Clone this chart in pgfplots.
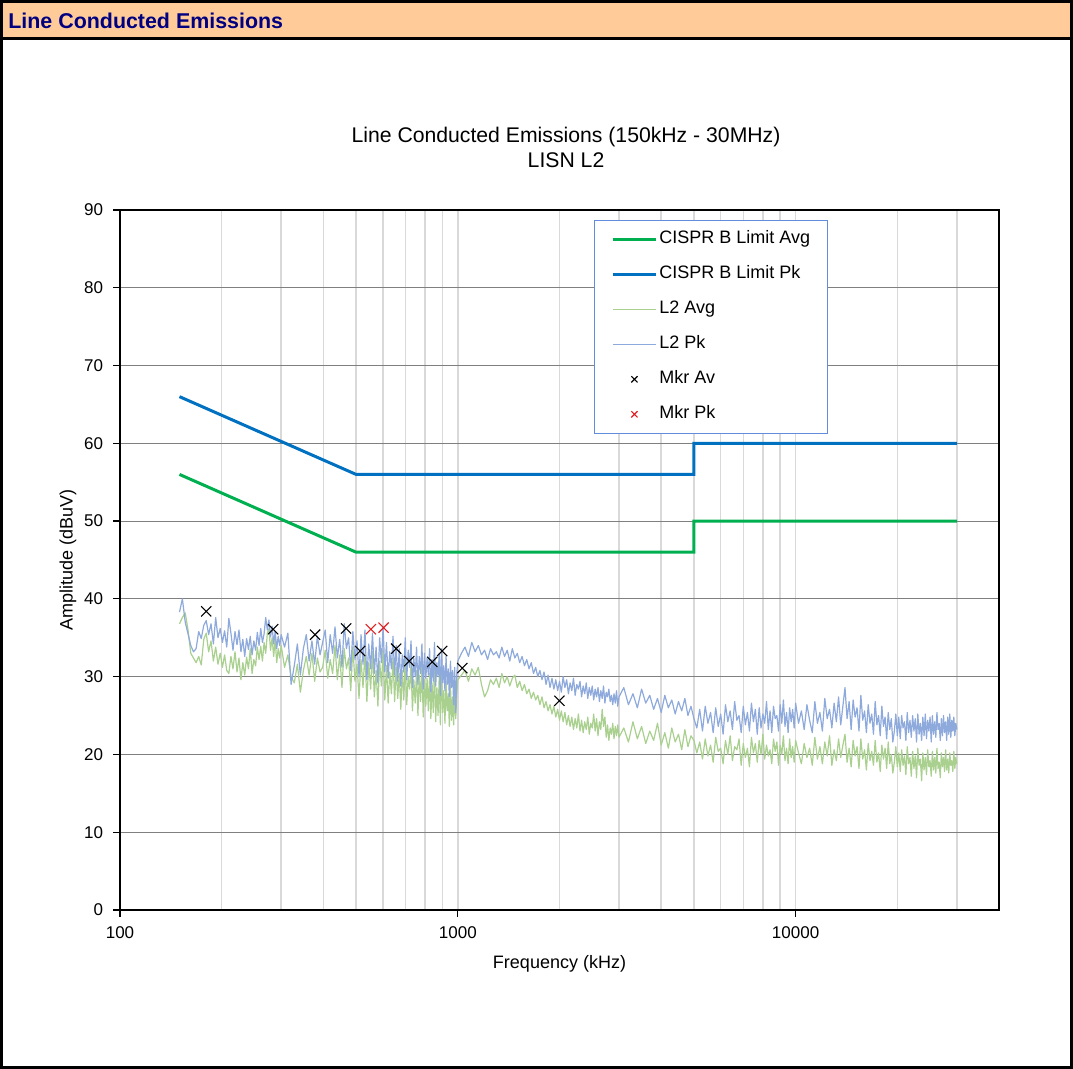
\documentclass[border=0pt]{standalone}
\usepackage{pgfplots}
\usepackage{pgfplotstable}
\pgfplotsset{compat=1.18}
\usepackage{fontspec}
\setmainfont{Liberation Sans}
\definecolor{limavg}{RGB}{0,176,80}
\definecolor{limpk}{RGB}{0,112,192}
\definecolor{travg}{RGB}{169,208,142}
\definecolor{trpk}{RGB}{142,169,219}
\definecolor{legblue}{RGB}{100,140,220}
\definecolor{hdr}{RGB}{255,204,153}
\definecolor{navy}{RGB}{0,0,128}
\definecolor{gridmaj}{RGB}{128,128,128}
\definecolor{gridmin}{RGB}{217,217,217}
\definecolor{mkrred}{RGB}{224,32,32}

\pgfplotstableread{
f pk av
150 38.3 36.8
153 40.0 37.6
156 37.0 38.2
159 35.5 36.0
162 34.0 33.0
165 33.2 32.4
168 33.6 31.8
171 35.8 32.6
174 34.9 31.5
177 36.6 34.8
180 37.2 35.6
183 35.4 33.2
186 36.8 34.6
189 34.2 32.0
192 37.6 33.8
195 35.0 31.6
198 36.2 33.0
201 34.4 31.2
204 35.9 32.8
207 33.8 30.8
210 37.5 30.4
213 35.6 32.6
216 33.4 31.0
219 35.8 33.2
222 34.1 30.6
225 36.0 32.4
228 33.2 29.6
231 34.8 31.8
234 32.6 30.2
237 34.9 32.5
240 33.5 31.0
243 35.2 33.6
246 32.8 30.4
249 34.6 32.2
252 33.4 31.4
255 35.7 33.8
258 34.0 32.2
261 36.2 33.9
264 34.4 32.0
267 35.5 34.4
270 37.6 33.0
273 36.0 35.6
276 37.3 36.2
279 35.1 33.4
282 36.5 35.0
285 34.2 32.6
288 35.8 34.8
291 33.6 31.8
294 35.2 33.6
297 34.0 32.4
300 35.4 34.0
307 33.8 31.2
314 35.6 32.8
321 29.0 30.0
328 31.4 29.2
335 34.2 31.6
342 30.2 28.0
349 33.6 30.8
356 35.4 32.6
363 32.0 30.2
370 34.6 33.0
377 31.6 29.4
384 35.2 32.4
391 32.8 30.6
398 34.4 31.2
405 36.0 33.4
412 31.8 29.8
419 35.4 32.2
426 33.0 30.4
433 36.4 34.0
440 32.4 29.6
447 34.8 32.8
454 31.2 28.6
461 36.8 33.6
468 33.6 31.0
475 35.0 32.4
482 30.8 28.2
489 35.8 33.8
496 32.2 29.4
503 34.6 31.6
510 30.0 27.2
517 35.4 32.2
524 31.6 28.6
531 36.0 33.0
538 29.6 26.8
545 34.2 31.8
552 31.0 28.4
559 35.6 33.2
566 30.4 27.4
573 33.8 30.8
580 29.2 26.2
587 35.0 32.0
594 31.8 28.8
601 36.4 33.4
608 30.6 27.0
615 34.4 31.4
622 29.8 26.6
629 33.2 30.6
636 31.0 27.8
643 35.2 32.4
650 30.2 26.8
657 34.0 31.2
664 29.4 27.2
671 33.6 30.4
678 28.8 25.8
685 32.8 30.8
692 30.6 27.0
699 35.0 32.2
706 29.6 26.4
713 33.4 30.0
720 31.2 28.4
727 34.6 31.6
734 28.6 25.6
741 32.4 29.6
748 30.0 26.6
755 33.8 30.8
762 29.0 25.0
769 32.6 30.2
776 30.4 26.8
783 34.2 31.4
790 28.4 24.8
797 33.0 29.6
804 29.8 26.2
811 32.4 29.8
818 30.2 25.6
825 33.6 30.4
832 28.0 24.6
839 32.2 29.2
846 29.4 25.4
853 34.4 31.2
860 28.8 24.2
867 31.8 28.6
874 30.0 25.0
881 33.0 30.0
888 27.6 23.8
895 33.6 30.6
902 29.2 25.4
909 31.4 28.2
916 28.2 24.0
923 32.6 29.4
930 29.0 25.6
937 31.0 27.8
944 27.4 23.6
951 32.0 29.0
958 28.6 24.4
965 30.8 27.4
972 26.4 23.8
979 31.2 28.6
986 25.4 24.6
993 30.4 27.6
1000 32.0 29.6
1025 33.0 30.2
1050 33.8 30.8
1075 32.6 29.4
1100 34.4 31.0
1125 33.2 30.2
1150 34.0 31.2
1175 32.8 29.0
1200 33.4 27.4
1225 32.2 28.2
1250 33.6 29.6
1275 32.8 29.0
1300 33.2 29.8
1325 32.4 28.6
1350 33.8 30.4
1375 32.6 29.2
1400 33.4 30.0
1425 32.0 28.8
1450 33.6 29.8
1475 32.4 30.2
1500 33.0 28.6
1525 31.8 29.4
1550 32.6 28.2
1575 31.4 29.0
1600 32.2 27.8
1625 31.0 28.4
1650 31.8 27.2
1675 30.4 28.0
1700 31.2 27.0
1725 30.0 27.6
1750 30.8 26.4
1775 29.6 27.4
1800 30.6 26.0
1825 29.0 26.8
1850 30.2 25.6
1875 28.6 26.4
1900 29.8 25.2
1925 28.4 26.2
1950 29.6 24.8
1975 28.2 25.8
2000 29.4 24.4
2025 28.0 25.6
2050 30.0 24.2
2075 28.6 25.4
2100 29.6 23.8
2125 27.8 25.0
2150 29.2 23.6
2175 28.2 24.8
2200 29.8 23.2
2225 27.6 24.6
2250 29.0 23.4
2275 28.4 25.2
2300 29.4 23.0
2325 27.4 24.4
2350 28.8 22.8
2375 27.8 24.2
2400 29.2 23.2
2425 27.2 24.8
2450 28.6 22.6
2475 27.6 24.0
2500 28.8 23.4
2525 27.0 25.2
2550 28.4 23.0
2575 27.4 24.6
2600 28.6 22.4
2625 26.8 24.2
2650 28.2 23.2
2675 27.2 25.8
2700 28.8 23.6
2725 26.6 24.8
2750 28.0 22.2
2775 27.4 23.8
2800 28.4 21.8
2825 26.8 23.4
2850 27.6 22.6
2875 26.4 24.0
2900 27.8 22.0
2925 26.6 23.6
2950 28.2 22.4
2975 26.2 23.8
3000 27.4 22.2
3100 28.6 23.4
3200 26.4 21.6
3300 27.8 24.2
3400 26.0 22.0
3500 28.4 23.6
3600 26.6 21.4
3700 27.6 23.0
3800 25.8 21.8
3900 27.2 24.0
4000 25.4 21.2
4100 27.6 22.8
4200 26.0 20.8
4300 27.0 23.4
4400 25.2 21.6
4500 26.8 22.6
4600 25.6 20.6
4700 27.2 23.2
4800 25.0 21.0
4900 26.2 22.4
5000 24.6 21.8
5100 23.4 20.2
5200 25.8 21.6
5300 23.0 19.4
5400 26.2 22.0
5500 24.0 19.8
5600 25.4 21.2
5700 22.8 19.0
5800 26.0 22.2
5900 23.6 20.4
6000 25.2 20.8
6100 22.6 18.8
6200 26.4 21.8
6300 24.2 20.0
6400 25.6 22.4
6500 23.2 19.2
6600 26.8 21.0
6700 24.4 20.6
6800 25.0 22.0
6900 22.8 18.6
7000 26.2 21.4
7100 23.8 19.6
7200 25.4 20.8
7300 23.0 18.4
7400 26.6 22.2
7500 24.2 20.2
7600 25.8 21.4
7700 22.6 19.0
7800 26.0 21.8
7900 23.4 20.0
8000 25.2 22.6
8100 24.0 19.4
8200 26.8 21.2
8300 23.2 19.8
8400 25.6 20.6
8500 22.8 18.8
8600 26.2 22.0
8700 24.6 20.4
8800 25.0 21.6
8900 23.0 18.6
9000 26.4 21.2
9100 24.0 20.0
9200 27.0 22.4
9300 23.6 19.2
9400 25.4 20.8
9500 22.8 18.8
9600 26.0 22.0
9700 24.2 19.6
9800 25.8 21.0
9900 23.4 19.0
10000 26.6 21.8
10200 24.0 20.2
10400 25.6 18.8
10600 23.2 21.4
10800 26.4 19.6
11000 24.4 20.8
11200 22.8 18.6
11400 26.8 22.2
11600 24.0 19.4
11800 25.4 21.0
12000 23.0 18.8
12200 27.2 21.6
12400 24.6 19.8
12600 25.8 22.4
12800 23.4 18.6
13000 26.6 20.6
13200 24.2 19.2
13400 27.4 22.0
13600 23.8 19.6
13800 26.2 21.2
14000 28.6 22.6
14200 24.6 19.0
14400 26.8 20.8
14600 23.2 18.4
14800 27.0 21.8
15000 24.8 19.8
15200 26.0 21.0
15400 23.0 18.2
15600 27.6 22.0
15800 24.4 19.4
16000 25.6 20.6
16200 22.8 18.0
16400 26.4 21.4
16600 24.0 19.2
16800 25.2 20.4
17000 22.6 18.6
17200 26.8 21.8
17400 23.8 19.0
17600 25.0 20.2
17800 22.4 17.8
18000 26.2 21.2
18200 23.6 19.4
18400 24.8 20.8
18600 22.0 18.2
18800 25.4 21.6
19000 23.2 18.8
19200 24.6 20.0
19400 21.6 17.6
19600 23.0 19.0
19800 25.2 21.0
20000 22.4 18.4
20200 24.8 20.2
20400 22.0 17.8
20600 25.0 20.6
20800 23.4 18.6
21000 24.2 19.8
21200 21.8 17.4
21400 25.4 21.0
21600 22.8 18.8
21800 24.4 19.6
22000 22.2 17.2
22200 25.0 20.4
22400 23.0 18.2
22600 24.6 19.8
22800 21.6 17.0
23000 25.2 20.8
23200 22.6 18.6
23400 24.0 19.4
23600 21.8 16.6
23800 24.8 20.2
24000 22.4 18.0
24200 25.2 19.6
24400 22.0 17.4
24600 24.4 20.6
24800 23.0 18.4
25000 24.8 19.2
25200 21.6 17.2
25400 25.0 20.4
25600 22.6 18.0
25800 24.2 19.6
26000 22.2 17.6
26200 25.4 20.8
26400 23.2 18.2
26600 24.0 19.0
26800 21.8 17.0
27000 24.6 20.2
27200 22.4 18.4
27400 25.0 19.6
27600 22.8 17.8
27800 24.2 20.6
28000 21.8 18.0
28200 24.8 19.4
28400 22.6 17.6
28600 25.2 20.2
28800 22.2 18.6
29000 24.4 19.2
29200 23.0 17.8
29400 24.8 20.4
29600 22.4 18.2
29800 24.0 19.6
30000 23.2 18.8
}\trace

\begin{document}
\begin{tikzpicture}
% outer frame and header
\fill[hdr] (1.5pt,515.25pt) rectangle (535pt,533pt);
\draw[line width=1.5pt] (1.5pt,515.25pt) -- (535pt,515.25pt);
\node[anchor=west,inner sep=0pt,text=navy,font=\fontsize{10.7}{12}\selectfont\bfseries] at (4pt,524.3pt) {Line Conducted Emissions};
\draw[line width=1.5pt] (0.75pt,0.75pt) rectangle (535.75pt,533.75pt);

\begin{axis}[
  at={(60pt,79.5pt)}, anchor=south west,
  width=439.5pt, height=350pt, scale only axis,
  xmode=log, log basis x=10,
  xmin=100, xmax=40000, ymin=0, ymax=90,
  xtick={100,1000,10000}, xticklabels={100,1000,10000},
  minor xtick={200,300,400,500,600,700,800,900,1000,2000,3000,4000,5000,6000,7000,8000,9000,10000,20000,30000},
  ytick={0,10,20,30,40,50,60,70,80,90},
  ymajorgrids, xminorgrids,
  major grid style={gridmaj, line width=0.5pt},
  minor grid style={gridmin, line width=0.75pt},
  tick pos=left, tick align=outside,
  major tick length=3.5pt, minor tick length=0pt,
  tick style={black, line width=0.6pt},
  axis line style={black, line width=1.1pt},
  /pgf/number format/assume math mode=true,
  ticklabel style={font=\fontsize{8.5}{10}\selectfont},
  yticklabel style={xshift=-1.5pt},
  xticklabel style={yshift=-1.5pt},
  xlabel={Frequency (kHz)},
  ylabel={Amplitude (dBuV)},
  label style={font=\fontsize{9}{11}\selectfont},
  xlabel style={at={(axis description cs:0.5,-0.0771)}, anchor=center},
  ylabel style={at={(axis description cs:-0.0592,0.5)}, anchor=center},
  title={Line Conducted Emissions (150kHz - 30MHz)\\LISN L2},
  title style={at={(axis description cs:0.5074,1.0721)}, anchor=center, align=center, font=\fontsize{10.6}{12.5}\selectfont},
  legend cell align=left,
  legend image code/.code={\draw[mark repeat=2,mark phase=2,#1] plot coordinates {(0pt,0pt) (10.75pt,0pt) (21.5pt,0pt)};},
  legend style={at={(axis description cs:0.5392,0.9857)}, anchor=north west,
    draw=legblue, line width=0.5pt, font=\fontsize{9}{10}\selectfont,
    inner xsep=8.5pt, inner ysep=5pt, row sep=8.7pt, column sep=1pt,
    nodes={inner sep=0pt, text height=6.6pt, text depth=2.2pt, anchor=west}},
]
\addplot[limavg, line width=1.5pt] coordinates {(150,56) (500,46) (5000,46) (5000,50) (30000,50)};
\addlegendentry{CISPR B Limit Avg}
\addplot[limpk, line width=1.5pt] coordinates {(150,66) (500,56) (5000,56) (5000,60) (30000,60)};
\addlegendentry{CISPR B Limit Pk}
\addplot[travg, line width=0.6pt, line join=round] table[x=f, y=av] {\trace};
\addlegendentry{L2 Avg}
\addplot[trpk, line width=0.6pt, line join=round] table[x=f, y=pk] {\trace};
\addlegendentry{L2 Pk}
\addplot[only marks, mark=x, mark size=3.6pt, black, line width=0.55pt,
  legend image post style={mark size=2.2pt}] coordinates {
  (180,38.4) (284,36.1) (378,35.4) (467,36.2) (514,33.3) (657,33.6)
  (718,32.0) (840,31.9) (899,33.3) (1031,31.1) (1999,26.9)};
\addlegendentry{Mkr Av}
\addplot[only marks, mark=x, mark size=3.6pt, mkrred, line width=0.55pt,
  legend image post style={mark size=2.2pt}] coordinates {
  (553,36.1) (603,36.3)};
\addlegendentry{Mkr Pk}
\end{axis}
\end{tikzpicture}
\end{document}
